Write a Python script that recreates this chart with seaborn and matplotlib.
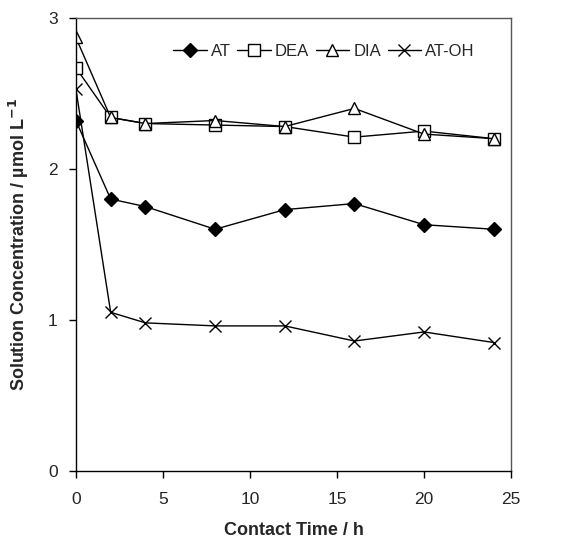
import numpy as np
import pandas as pd
import seaborn as sns
import matplotlib
matplotlib.use('Agg')
import matplotlib.pyplot as plt

# Values
time_h = [0, 2, 4, 8, 12, 16, 20, 24]
at = [2.32, 1.80, 1.75, 1.60, 1.73, 1.77, 1.63, 1.60]
dea = [2.67, 2.34, 2.30, 2.29, 2.28, 2.21, 2.25, 2.20]
dia = [2.87, 2.34, 2.30, 2.32, 2.28, 2.40, 2.23, 2.20]
at_oh = [2.53, 1.05, 0.98, 0.96, 0.96, 0.86, 0.92, 0.85]
series_names = ['AT', 'DEA', 'DIA', 'AT-OH']

sns.set_style('ticks')
plt.rcParams['font.family'] = ['Liberation Sans', 'DejaVu Sans']

df = pd.DataFrame({'time': time_h * 4,
                   'conc': at + dea + dia + at_oh,
                   'compound': np.repeat(series_names, len(time_h))})

fig = plt.figure(figsize=(5.66, 5.40), dpi=100)
ax = fig.add_axes([0.134, 0.128, 0.769, 0.839])

markers = {'AT': 'D', 'DEA': 's', 'DIA': '^', 'AT-OH': 'x'}
sizes = {'AT': 7, 'DEA': 9, 'DIA': 9, 'AT-OH': 9}
for name in series_names:
    sub = df[df['compound'] == name]
    face = 'black' if name == 'AT' else 'white'
    sns.lineplot(data=sub, x='time', y='conc', ax=ax, color='black', lw=1,
                 marker=markers[name], markersize=sizes[name],
                 markerfacecolor=face, markeredgecolor='black',
                 markeredgewidth=1, label=name)

ax.set_xlim(0, 25)
ax.set_ylim(0, 3)
ax.set_xticks([0, 5, 10, 15, 20, 25])
ax.set_yticks([0, 1, 2, 3])
ax.tick_params(direction='out', length=5, width=1, color='black',
               labelsize=12.5, left=True, bottom=True, pad=10)
ax.tick_params(axis='y', pad=8)
for s in ['left', 'bottom', 'top', 'right']:
    ax.spines[s].set_visible(True)
    ax.spines[s].set_linewidth(1)
for s in ['left', 'bottom']:
    ax.spines[s].set_color('black')
for s in ['top', 'right']:
    ax.spines[s].set_color('#555555')
ax.set_xlabel('Contact Time / h', fontsize=13, fontweight='bold', labelpad=11)
ax.set_ylabel('Solution Concentration / µmol L$^{\\mathbf{-1}}$', fontsize=13,
              fontweight='bold', labelpad=12)

ax.legend(loc='upper center', bbox_to_anchor=(0.57, 0.975), ncol=4, frameon=False,
          fontsize=12, handlelength=2.0, handletextpad=0.25, columnspacing=0.4)

fig.savefig('out.png', dpi=100)
